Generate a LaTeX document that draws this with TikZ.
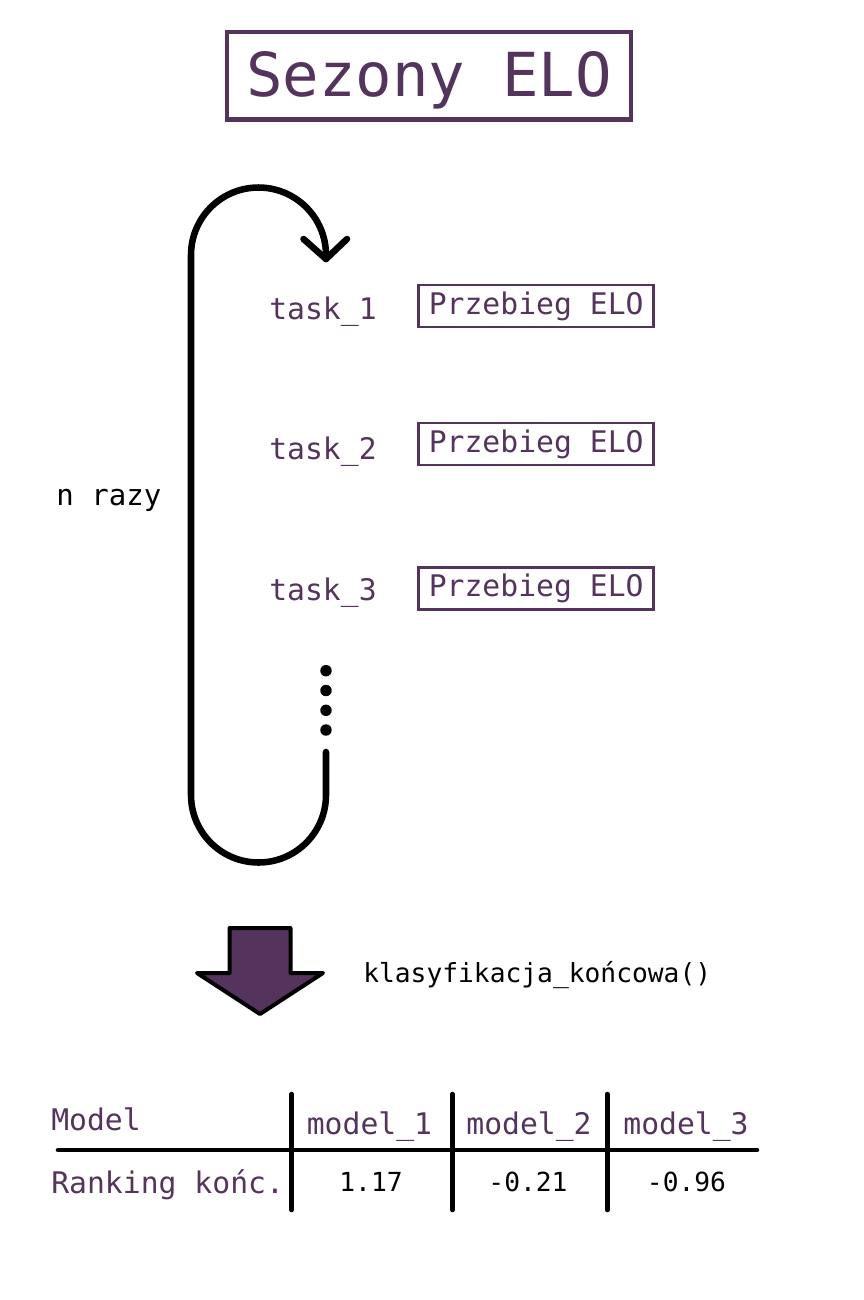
\documentclass[tikz,border=0pt]{standalone}
\usepackage{fontspec}
\newfontfamily\mono{DejaVu Sans Mono}
\definecolor{elo}{RGB}{84,52,92}
\begin{document}
\begin{tikzpicture}[x=0.75pt,y=0.75pt,
  purp/.style={font=\mono\fontsize{22.3}{26}\selectfont, text=elo, inner sep=0pt},
  blk/.style={font=\mono\fontsize{19.7}{24}\selectfont, text=black, inner sep=0pt},
  elobox/.style={purp, draw=elo, line width=2pt, minimum width=176.3pt, minimum height=31.3pt, text height=12pt, text depth=0pt},
  loopline/.style={line width=4.9pt, line cap=round, line join=round},
  tabline/.style={line width=3.4pt, line cap=round},
  dotmark/.style={circle, fill=black, inner sep=0pt, minimum size=8.6pt}]
\useasboundingbox (0,0) rectangle (864,-1300);

% title
\node[draw=elo, line width=3.2pt, minimum width=303pt, minimum height=65.6pt, inner sep=0pt,
      text=elo, font=\mono\fontsize{45.5}{50}\selectfont, text height=30.5pt, text depth=0pt]
      (title) at (429,-75.7) {Sezony ELO};

% tasks
\node[purp, anchor=base west] (t1) at (269,-319) {task\_1};
\node[purp, anchor=base west] (t2) at (269,-459.3) {task\_2};
\node[purp, anchor=base west] (t3) at (269,-600) {task\_3};
\node[elobox] (b1) at (536.2,-306) {Przebieg ELO};
\node[elobox] (b2) at (536.2,-444) {Przebieg ELO};
\node[elobox] (b3) at (536.2,-588.3) {Przebieg ELO};

% loop
\coordinate (lstart) at (326,-752);
\coordinate (lend) at (326,-259);
\draw[loopline] (lstart) -- (326,-795) arc[start angle=0, end angle=-180, radius=67.5]
  -- (191,-255) arc[start angle=180, end angle=0, radius=67.5] -- (lend);
\draw[loopline] (303.5,-239) -- (lend) -- (347,-239);
\node[dotmark] (d1) at (326,-670.7) {};
\node[dotmark] (d2) at (326,-690.5) {};
\node[dotmark] (d3) at (326,-710.3) {};
\node[dotmark] (d4) at (326,-730) {};
\node[font=\mono\fontsize{21.8}{26}\selectfont, inner sep=0pt, anchor=base west] (nrazy) at (56,-505) {n razy};

% big arrow
\draw[line width=3pt, fill=elo, line join=round]
  (229.5,-928) -- (290.5,-928) -- (290.5,-973) -- (323,-973) -- (260,-1014)
  -- (197,-973) -- (229.5,-973) -- cycle;
\node[blk, anchor=base west] (klas) at (363,-982) {klasyfikacja\_końcowa()};

% table
\coordinate (hl) at (58,-1150);
\coordinate (hr) at (757,-1150);
\draw[tabline] (hl) -- (hr);
\coordinate (v1t) at (291.7,-1094);
\coordinate (v1b) at (291.7,-1210);
\coordinate (v2t) at (452.3,-1094);
\coordinate (v2b) at (452.3,-1210);
\coordinate (v3t) at (607.3,-1094);
\coordinate (v3b) at (607.3,-1210);
\draw[tabline] (v1t) -- (v1b);
\draw[tabline] (v2t) -- (v2b);
\draw[tabline] (v3t) -- (v3b);

\node[purp, anchor=base west] (hmodel) at (51,-1130) {Model};
\node[purp, anchor=base west] (hrank) at (51,-1193) {Ranking końc.};
\node[purp, anchor=base] (m1) at (369.5,-1134.3) {model\_1};
\node[purp, anchor=base] (m2) at (529,-1134.3) {model\_2};
\node[purp, anchor=base] (m3) at (686,-1134.3) {model\_3};
\node[blk, anchor=base] (r1) at (371,-1191.7) {1.17};
\node[blk, anchor=base] (r2) at (528,-1191.7) {-0.21};
\node[blk, anchor=base] (r3) at (686.5,-1191.7) {-0.96};
\end{tikzpicture}
\end{document}
